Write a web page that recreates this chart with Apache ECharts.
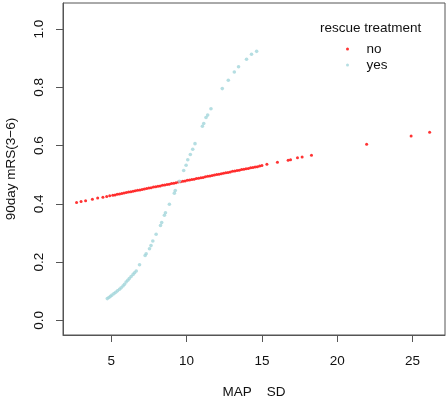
<!DOCTYPE html>
<html>
<head>
<meta charset="utf-8">
<script src="https://cdn.jsdelivr.net/npm/echarts@6/dist/echarts.min.js"></script>
<style>
html, body { margin: 0; padding: 0; background: #fff; }
#main { width: 447px; height: 398px; }
</style>
</head>
<body>
<div id="main"></div>
<script>
// rescue treatment = no
var noX = [2.70, 3.00, 3.30, 3.75, 4.10, 4.45, 4.70, 4.90, 5.10, 5.25, 5.40, 5.55, 5.70, 5.85,
    6.00, 6.15, 6.30, 6.45, 6.60, 6.75, 6.90, 7.05, 7.20, 7.35, 7.50, 7.65, 7.80, 7.95,
    8.10, 8.25, 8.40, 8.55, 8.70, 8.85, 9.00, 9.15, 9.30, 9.45, 9.60, 9.75, 9.90,
    10.05, 10.20, 10.35, 10.50, 10.65, 10.80, 10.95, 11.10, 11.25, 11.40, 11.55, 11.70, 11.85,
    12.00, 12.15, 12.30, 12.45, 12.60, 12.75, 12.90, 13.05, 13.20, 13.35, 13.50, 13.65, 13.80,
    13.95, 14.10, 14.25, 14.40, 14.55, 14.70, 14.85, 15.00,
    15.33, 16.03, 16.74, 16.90, 17.36, 17.67, 18.29, 21.95, 24.90, 26.13];
var noY = [0.405, 0.408, 0.411, 0.416, 0.420, 0.423, 0.426, 0.428, 0.430, 0.431, 0.433, 0.434, 0.436, 0.438,
    0.439, 0.441, 0.442, 0.444, 0.445, 0.447, 0.448, 0.450, 0.451, 0.453, 0.455, 0.456, 0.458, 0.459,
    0.461, 0.462, 0.464, 0.465, 0.467, 0.468, 0.470, 0.471, 0.473, 0.475, 0.476, 0.478, 0.479,
    0.481, 0.482, 0.484, 0.485, 0.487, 0.488, 0.490, 0.491, 0.493, 0.495, 0.496, 0.498, 0.499,
    0.501, 0.502, 0.504, 0.505, 0.507, 0.508, 0.510, 0.512, 0.513, 0.515, 0.516, 0.518, 0.519,
    0.521, 0.522, 0.524, 0.525, 0.527, 0.528, 0.530, 0.532,
    0.536, 0.543, 0.550, 0.552, 0.559, 0.561, 0.567, 0.605, 0.633, 0.646];

// rescue treatment = yes
var yesX = [4.74, 4.85, 4.95, 5.05, 5.18, 5.30, 5.42, 5.55, 5.66, 5.78, 5.88, 5.99, 6.10, 6.20,
    6.32, 6.45, 6.55, 6.66, 6.88, 7.25, 7.32, 7.54, 7.64, 7.76, 7.98, 8.27, 8.35, 8.53, 8.60,
    8.86, 9.19, 9.25, 9.52, 9.81, 9.97, 10.08, 10.25, 10.41, 10.56, 11.05, 11.14, 11.29, 11.40,
    11.62, 12.37, 12.77, 13.17, 13.45, 13.98, 14.31, 14.65];
var yesY = [0.075, 0.079, 0.083, 0.087, 0.092, 0.097, 0.102, 0.107, 0.112, 0.118, 0.124, 0.132, 0.138, 0.144,
    0.151, 0.158, 0.164, 0.170, 0.191, 0.223, 0.229, 0.246, 0.257, 0.273, 0.296, 0.326, 0.336, 0.361, 0.370,
    0.399, 0.437, 0.446, 0.478, 0.515, 0.533, 0.552, 0.570, 0.588, 0.607, 0.667, 0.676, 0.697, 0.705,
    0.727, 0.796, 0.825, 0.853, 0.871, 0.897, 0.914, 0.924];

var xTicks = [5, 10, 15, 20, 25];
var yTicks = [0, 0.2, 0.4, 0.6, 0.8, 1.0];

function pairs(xs, ys)
{
    var out = [];
    for (var i = 0; i < xs.length; i++) out.push([xs[i], ys[i]]);
    return out;
}

var font = 'Liberation Sans, Arial, sans-serif';
var axisCol = '#555555';

var myChart = echarts.init(document.getElementById('main'));
var option = {
    animation: false,
    title: {
        text: 'rescue treatment',
        left: 315,
        top: 16,
        textStyle: {fontFamily: font, fontSize: 13.5, fontWeight: 'normal', color: '#111'}
    },
    legend: {
        orient: 'vertical',
        left: 341,
        top: 37,
        itemWidth: 28,
        itemHeight: 3,
        itemGap: 2,
        icon: 'circle',
        textStyle: {fontFamily: font, fontSize: 13.5, color: '#111'},
        data: ['no', 'yes']
    },
    grid: {
        left: 63, right: 2, top: 3, bottom: 63,
        show: true, borderColor: axisCol, borderWidth: 1,
        containLabel: false,
        outerBoundsMode: 'none'
    },
    xAxis: {
        type: 'value',
        min: 1.8,
        max: 27.15,
        name: 'MAP\u00a0\u00a0\u00a0\u00a0SD',
        nameLocation: 'middle',
        nameGap: 50,
        nameTextStyle: {fontFamily: font, fontSize: 13.5, color: '#111'},
        axisLine: {show: true, onZero: false, lineStyle: {color: axisCol}},
        axisTick: {show: true, length: 7, lineStyle: {color: axisCol}, customValues: xTicks},
        axisLabel: {fontFamily: font, fontSize: 13.5, color: '#111', margin: 19, customValues: xTicks},
        splitLine: {show: false}
    },
    yAxis: {
        type: 'value',
        min: -0.05,
        max: 1.09,
        name: '90day mRS(3\u22126)',
        nameLocation: 'middle',
        nameGap: 45,
        nameTextStyle: {fontFamily: font, fontSize: 13.5, color: '#111'},
        axisLine: {show: true, onZero: false, lineStyle: {color: axisCol}},
        axisTick: {show: true, length: 7, lineStyle: {color: axisCol}, customValues: yTicks},
        axisLabel: {
            fontFamily: font, fontSize: 13.5, color: '#111', margin: 17, rotate: 90,
            customValues: yTicks,
            formatter: function (v) { return v.toFixed(1); }
        },
        splitLine: {show: false}
    },
    series: [
        {
            name: 'no',
            type: 'scatter',
            symbol: 'circle',
            symbolSize: 3,
            itemStyle: {color: '#ff0000'},
            data: pairs(noX, noY)
        },
        {
            name: 'yes',
            type: 'scatter',
            symbol: 'circle',
            symbolSize: 3.6,
            itemStyle: {color: '#a3d6db'},
            data: pairs(yesX, yesY)
        }
    ]
};
myChart.setOption(option);
</script>
</body>
</html>
